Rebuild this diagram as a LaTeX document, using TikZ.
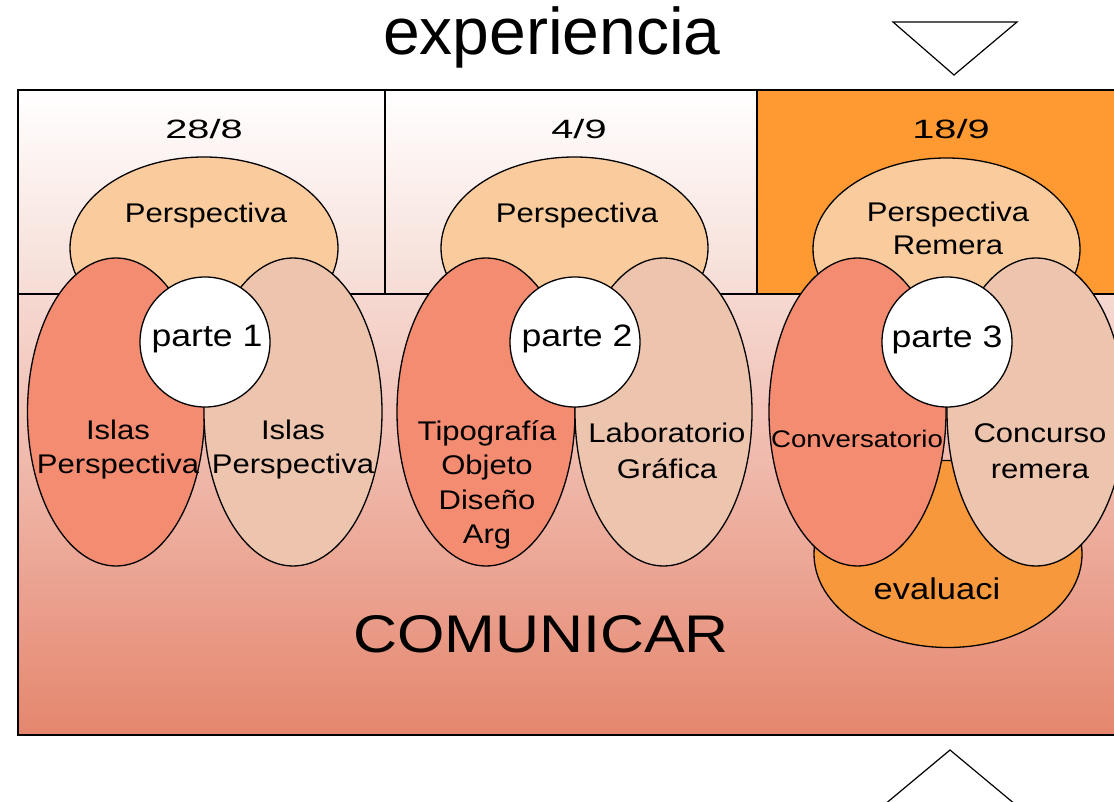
\documentclass[tikz,border=0pt]{standalone}
\usepackage{fontspec}
\setmainfont{Liberation Sans}[FakeStretch=1.15]
\newfontfamily\titlefont{Liberation Sans}
\newfontfamily\datefont{Liberation Sans}[FakeStretch=1.5]
\usetikzlibrary{shapes.geometric}
\definecolor{peach}{RGB}{250,204,157}
\definecolor{salmon}{RGB}{243,140,112}
\definecolor{blush}{RGB}{237,196,174}
\definecolor{cellorange}{RGB}{255,154,51}
\definecolor{evalorange}{RGB}{247,152,60}
\definecolor{pinktop}{RGB}{246,220,213}
\definecolor{pinkmid}{RGB}{246,217,210}
\definecolor{salmonlow}{RGB}{229,134,110}
\tikzset{
  oval/.style={ellipse, draw=black, line width=1.3pt, inner sep=0pt},
  hub/.style={circle, draw=black, line width=1.3pt, fill=white, inner sep=0pt, minimum size=130},
  frame/.style={draw=black, line width=1.4pt},
  txt/.style={align=center, anchor=base, inner sep=0pt, font=\fontsize{27}{34.5}\selectfont},
  datetxt/.style={anchor=base, inner sep=0pt, font=\datefont\fontsize{26.5}{30}\selectfont},
  partetxt/.style={anchor=base, inner sep=0pt, font=\fontsize{31}{36}\selectfont},
  marker/.style={draw=black, line width=1.2pt, fill=white}
}
\begin{document}
\begin{tikzpicture}[x=1pt,y=-1pt]
\useasboundingbox (0,0) rectangle (1114,802);
\clip (0,0) rectangle (1114,802);
\fill[white] (0,0) rectangle (1114,802);

% backgrounds
\path[shade, top color=white, bottom color=pinktop] (18,90) rectangle (1125,294);
\fill[cellorange] (757,90) rectangle (1125,294);
\path[shade, top color=pinkmid, bottom color=salmonlow] (18,294) rectangle (1125,735);
\draw[frame] (1125,90) -- (18,90) -- (18,735) -- (1125,735);
\draw[frame] (18,294) -- (1125,294);
\draw[frame] (385,90) -- (385,294);
\draw[frame] (757,90) -- (757,294);

% title and markers
\node[anchor=base, inner sep=0pt, font=\titlefont\fontsize{66}{70}\selectfont] (title) at (552,55) {experiencia};
\draw[marker] (893,22) -- (1017,22) -- (954,75) -- cycle;
\draw[marker] (884,805) -- (950,750) -- (1016,805) -- cycle;

% column 1
\node[oval, fill=peach, minimum width=268, minimum height=182] (top1) at (204,248) {};
\node[oval, fill=salmon, minimum width=177, minimum height=308] (left1) at (116,412) {};
\node[oval, fill=blush, minimum width=178, minimum height=308] (right1) at (293,412) {};
\node[hub] (hub1) at (205,342) {};

% column 2
\node[oval, fill=peach, minimum width=267, minimum height=182] (top2) at (574.5,248) {};
\node[oval, fill=salmon, minimum width=178, minimum height=308] (left2) at (486,412) {};
\node[oval, fill=blush, minimum width=177, minimum height=308] (right2) at (663.5,412) {};
\node[hub] (hub2) at (575,342) {};

% column 3
\node[oval, fill=peach, minimum width=267, minimum height=182] (top3) at (946.5,249) {};
\node[oval, fill=evalorange, minimum width=268, minimum height=187] (eval3) at (948,554) {};
\node[oval, fill=salmon, minimum width=177, minimum height=308] (left3) at (857.5,412) {};
\node[oval, fill=blush, minimum width=178, minimum height=308] (right3) at (1036,412) {};
\node[hub] (hub3) at (947,342) {};

% texts column 1 (multi-line nodes: base anchor = last line's baseline)
\node[datetxt] (d1) at (204,139) {28/8};
\node[txt] (p1) at (206,223) {Perspectiva};
\node[partetxt] (h1) at (207,347) {parte 1};
\node[txt] (l1) at (118,473.5) {Islas\\Perspectiva};
\node[txt] (r1) at (293,473.5) {Islas\\Perspectiva};

% texts column 2
\node[datetxt] (d2) at (579,139) {4/9};
\node[txt] (p2) at (577,223) {Perspectiva};
\node[partetxt] (h2) at (577,347) {parte 2};
\node[txt] (l2) at (487,543.5) {Tipografía\\Objeto\\Diseño\\Arg};
\node[txt, font=\fontsize{27}{36}\selectfont] (r2) at (667,478) {Laboratorio\\Gráfica};

% texts column 3
\node[datetxt] (d3) at (951,139) {18/9};
\node[txt, font=\fontsize{27}{33}\selectfont] (p3) at (948,255) {Perspectiva\\Remera};
\node[partetxt] (h3) at (947,348) {parte 3};
\node[txt, font=\fontsize{24}{30}\selectfont] (l3) at (857,447) {Conversatorio};
\node[txt, font=\fontsize{27}{36}\selectfont] (r3) at (1040,478) {Concurso\\remera};
\node[txt, font=\fontsize{30}{34}\selectfont] (e3) at (937,599) {evaluaci};

% bottom label
\node[anchor=base, inner sep=0pt, font=\fontsize{53}{60}\selectfont] (comunicar) at (541,652) {COMUNICAR};
\end{tikzpicture}
\end{document}
